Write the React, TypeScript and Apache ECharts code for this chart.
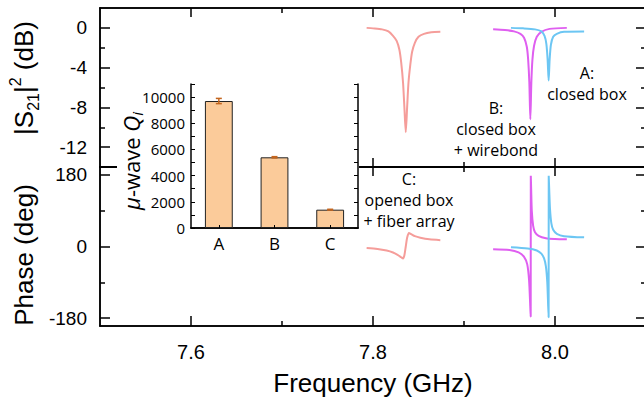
import React, { useEffect, useRef } from 'react';
import * as echarts from 'echarts';

// ---- tick values ----
const xMajor = [7.6, 7.8, 8.0];
const xMinor = [7.7, 7.9];
const magMajor = [-12, -8, -4, 0];
const magMinor = [-10, -6, -2];
const phaseMajor = [-180, 0, 180];
const phaseMinor = [-90, 90];

// ---- inset bar data ----
const samples = ['A', 'B', 'C'];
const qValues = [9700, 5400, 1400];
const qErrors = [200, 50, 30];
const qLabelTicks = [0, 2000, 4000, 6000, 8000, 10000];

// ---- |S21|^2 (dB) traces: [GHz, dB] ----
const magC: number[][] = [
  [7.793, 0.0], [7.8, -0.05], [7.81, -0.15], [7.817, -0.35], [7.822, -0.8], [7.826, -1.3],
  [7.829, -2.2], [7.831, -3.5], [7.833, -5.5], [7.8345, -8.0], [7.836, -10.5], [7.8375, -8.0],
  [7.839, -5.5], [7.841, -3.7], [7.843, -2.4], [7.846, -1.5], [7.85, -0.9], [7.856, -0.6],
  [7.864, -0.45], [7.874, -0.4],
];
const magB: number[][] = [
  [7.932, -0.15], [7.945, -0.22], [7.955, -0.35], [7.962, -0.6], [7.966, -1.0], [7.969, -1.9],
  [7.9705, -3.2], [7.9718, -5.5], [7.9729, -9.2], [7.974, -5.5], [7.9752, -3.2], [7.977, -1.8],
  [7.98, -0.9], [7.985, -0.4], [7.994, -0.1], [8.013, 0.0],
];
const magA: number[][] = [
  [7.9516, 0.0], [7.965, -0.05], [7.978, -0.15], [7.985, -0.35], [7.9885, -0.8], [7.9905, -1.6],
  [7.9919, -3.2], [7.993, -5.3], [7.9941, -3.2], [7.9955, -1.7], [7.998, -0.9], [8.002, -0.6],
  [8.01, -0.4], [8.032, -0.37],
];

// ---- phase (deg) traces: [GHz, deg] ----
const phaseC: number[][] = [
  [7.793, -4], [7.805, -6], [7.815, -10], [7.822, -15], [7.827, -21], [7.831, -27], [7.833, -30],
  [7.8345, -22], [7.836, 0], [7.8375, 22], [7.8395, 34], [7.842, 31], [7.846, 26], [7.852, 22],
  [7.862, 18], [7.874, 16],
];
const phaseB: number[][] = [
  [7.932, -7], [7.95, -9], [7.96, -15], [7.966, -26], [7.9695, -45], [7.9715, -85], [7.9728, -150],
  [7.9733, -176], [7.9734, 178], [7.9738, 145], [7.9745, 90], [7.976, 52], [7.978, 36], [7.982, 27],
  [7.99, 21], [8.0, 19], [8.013, 18],
];
const phaseA: number[][] = [
  [7.9516, -2], [7.97, -5], [7.98, -10], [7.985, -18], [7.988, -30], [7.99, -50], [7.9915, -90],
  [7.9925, -150], [7.993, -178], [7.9931, 178], [7.9937, 140], [7.9945, 95], [7.996, 58], [7.998, 42],
  [8.002, 32], [8.01, 26], [8.032, 23],
];

const COLOR_C = '#F59D9A';
const COLOR_B = '#DF5FF0';
const COLOR_A = '#6CC6F3';
const BAR_FILL = '#FBCB9A';
const ERR = '#C4661F';
const AX = '#000';
const ARIAL = 'Liberation Sans, Arial, sans-serif';
const MYRIAD = 'Open Sans, Noto Sans, sans-serif';

const G_LEFT = 100;
const G_WIDTH = 546;

function xAx(grid: number, position: string, values: number[], len: number, label: boolean, z = 0) {
  return {
    type: 'value', gridIndex: grid, position, min: 7.5, max: 8.1, z,
    axisLine: { show: true, onZero: false, lineStyle: { color: AX, width: 1.5 } },
    axisTick: { show: true, inside: true, length: len, customValues: values, lineStyle: { color: AX, width: 1.5 } },
    axisLabel: label
      ? { show: true, customValues: values, formatter: (v: number) => v.toFixed(1), fontSize: 20, color: '#000', fontFamily: ARIAL, margin: 16 }
      : { show: false },
    splitLine: { show: false },
  };
}

function yAx(grid: number, position: string, min: number, max: number, values: number[], len: number, label: boolean) {
  return {
    type: 'value', gridIndex: grid, position, min, max,
    axisLine: { show: true, onZero: false, lineStyle: { color: AX, width: 1.5 } },
    axisTick: { show: true, inside: true, length: len, customValues: values, lineStyle: { color: AX, width: 1.5 } },
    axisLabel: label
      ? { show: true, customValues: values, fontSize: 19, color: '#000', fontFamily: ARIAL, margin: 13 }
      : { show: false },
    splitLine: { show: false },
  };
}

export default function App() {
  const ref = useRef<HTMLDivElement>(null);
  useEffect(() => {
    if (!ref.current) return;
    const chart = echarts.init(ref.current, undefined, { renderer: 'svg' });
    const lineSeries = (data: number[][], color: string, xi: number, yi: number) => ({
      type: 'line', data, xAxisIndex: xi, yAxisIndex: yi, showSymbol: false, symbol: 'none',
      smooth: 0.25, lineStyle: { color, width: 2 }, z: 2, clip: true,
    });

    const option: any = {
      animation: false,
      backgroundColor: '#fff',
      grid: [
        { left: G_LEFT, top: 8, width: G_WIDTH, height: 159, outerBoundsMode: 'none', containLabel: false },
        { left: G_LEFT, top: 167, width: G_WIDTH, height: 159, outerBoundsMode: 'none', containLabel: false },
        { left: 191, top: 84, width: 167, height: 144, outerBoundsMode: 'none', containLabel: false, z: 10 },
      ],
      xAxis: [
        xAx(0, 'bottom', xMajor, 9, false),
        xAx(0, 'bottom', xMinor, 5, false),
        xAx(0, 'top', xMajor, 9, false),
        xAx(0, 'top', xMinor, 5, false),
        xAx(1, 'bottom', xMajor, 10, true),
        xAx(1, 'bottom', xMinor, 5, false),
        xAx(1, 'top', xMajor, 9, false),
        xAx(1, 'top', xMinor, 5, false),
        {
          type: 'category', gridIndex: 2, position: 'bottom', data: samples, z: 10,
          axisLine: { show: true, lineStyle: { color: AX, width: 1.5 } },
          axisTick: { show: true, inside: true, alignWithLabel: true, length: 3, lineStyle: { color: AX, width: 1 } },
          axisLabel: { fontSize: 17, color: '#000', fontFamily: MYRIAD, margin: 7 },
        },
        {
          type: 'category', gridIndex: 2, position: 'top', data: samples, z: 10,
          axisLine: { show: true, lineStyle: { color: AX, width: 1.5 } },
          axisTick: { show: false }, axisLabel: { show: false },
        },
      ],
      yAxis: [
        yAx(0, 'left', -14, 2, magMajor, 10, true),
        yAx(0, 'left', -14, 2, magMinor, 5, false),
        yAx(0, 'right', -14, 2, magMajor, 10, false),
        yAx(0, 'right', -14, 2, magMinor, 5, false),
        yAx(1, 'left', -200, 200, phaseMajor, 10, true),
        yAx(1, 'left', -200, 200, phaseMinor, 5, false),
        yAx(1, 'right', -200, 200, phaseMajor, 10, false),
        yAx(1, 'right', -200, 200, phaseMinor, 5, false),
        {
          type: 'value', gridIndex: 2, position: 'left', min: 0, max: 11000, interval: 1000, z: 10,
          axisLine: { show: true, lineStyle: { color: AX, width: 1.5 } },
          axisTick: { show: true, inside: true, length: 4, lineStyle: { color: AX, width: 1 } },
          axisLabel: {
            customValues: qLabelTicks, formatter: (v: number) => String(v),
            fontSize: 15, color: '#000', fontFamily: MYRIAD, margin: 6,
          },
          splitLine: { show: false },
        },
        {
          type: 'value', gridIndex: 2, position: 'right', min: 0, max: 11000, interval: 1000, z: 10,
          axisLine: { show: true, lineStyle: { color: AX, width: 1.5 } },
          axisTick: { show: true, inside: true, length: 4, lineStyle: { color: AX, width: 1 } },
          axisLabel: { show: false }, splitLine: { show: false },
        },
      ],
      series: [
        lineSeries(magC, COLOR_C, 0, 0),
        lineSeries(magB, COLOR_B, 0, 0),
        lineSeries(magA, COLOR_A, 0, 0),
        lineSeries(phaseC, COLOR_C, 4, 4),
        lineSeries(phaseB, COLOR_B, 4, 4),
        lineSeries(phaseA, COLOR_A, 4, 4),
        {
          type: 'bar', xAxisIndex: 8, yAxisIndex: 8, data: qValues, barWidth: '50%', z: 10,
          itemStyle: { color: BAR_FILL, borderColor: '#222', borderWidth: 1 },
        },
        {
          type: 'custom', xAxisIndex: 8, yAxisIndex: 8, z: 11,
          data: samples.map((_, i) => [i, qValues[i], qErrors[i]]),
          encode: { x: 0, y: 1 },
          renderItem: (params: any, api: any) => {
            const i = api.value(0);
            const v = api.value(1);
            const e = api.value(2);
            const top = api.coord([i, v + e]);
            const bot = api.coord([i, v - e]);
            const hw = 3;
            const st = { stroke: ERR, lineWidth: 1.5 };
            return {
              type: 'group',
              children: [
                { type: 'line', shape: { x1: top[0], y1: top[1], x2: bot[0], y2: bot[1] }, style: st },
                { type: 'line', shape: { x1: top[0] - hw, y1: top[1], x2: top[0] + hw, y2: top[1] }, style: st },
                { type: 'line', shape: { x1: bot[0] - hw, y1: bot[1], x2: bot[0] + hw, y2: bot[1] }, style: st },
              ],
            };
          },
        },
      ],
      graphic: [
        { type: 'rect', z: 5, shape: { x: 117, y: 62, width: 242, height: 192 }, style: { fill: '#fff' } },
        {
          type: 'text', z: 20, x: 24, y: 78, rotation: Math.PI / 2,
          style: {
            text: '{b||S}{sub|21}{b||}{sup|2}{b| (dB)}',
            align: 'center', verticalAlign: 'middle', fill: '#000',
            font: `26px ${ARIAL}`,
            rich: {
              b: { fontSize: 26, fontFamily: ARIAL, lineHeight: 34, fill: '#000' },
              sub: { fontSize: 16, fontFamily: ARIAL, lineHeight: 18, verticalAlign: 'bottom', fill: '#000' },
              sup: { fontSize: 16, fontFamily: ARIAL, lineHeight: 12, verticalAlign: 'top', fill: '#000' },
            },
          },
        },
        {
          type: 'text', z: 20, x: 24, y: 255, rotation: Math.PI / 2,
          style: { text: 'Phase (deg)', align: 'center', verticalAlign: 'middle', fill: '#000', fontSize: 26, fontFamily: ARIAL },
        },
        {
          type: 'text', z: 20, x: 373, y: 383,
          style: { text: 'Frequency (GHz)', align: 'center', verticalAlign: 'middle', fill: '#000', fontSize: 26, fontFamily: ARIAL },
        },
        {
          type: 'text', z: 20, x: 131, y: 161, rotation: Math.PI / 2,
          style: {
            text: '{it|μ}{n|-wave }{it|Q}{isub|i}',
            align: 'center', verticalAlign: 'middle', fill: '#000',
            font: `22px ${MYRIAD}`,
            rich: {
              it: { fontSize: 22, fontStyle: 'italic', fontFamily: MYRIAD, lineHeight: 26, fill: '#000' },
              n: { fontSize: 22, fontFamily: MYRIAD, lineHeight: 26, fill: '#000' },
              isub: { fontSize: 15, fontStyle: 'italic', fontFamily: MYRIAD, lineHeight: 15, verticalAlign: 'bottom', fill: '#000' },
            },
          },
        },
        {
          type: 'text', z: 20, x: 587, y: 83.5,
          style: { text: 'A:\nclosed box', align: 'center', verticalAlign: 'middle', fill: '#000', fontSize: 16, lineHeight: 21, fontFamily: MYRIAD },
        },
        {
          type: 'text', z: 20, x: 496, y: 128.5,
          style: { text: 'B:\nclosed box\n+ wirebond', align: 'center', verticalAlign: 'middle', fill: '#000', fontSize: 16, lineHeight: 21, fontFamily: MYRIAD },
        },
        {
          type: 'text', z: 20, x: 409, y: 200,
          style: { text: 'C:\nopened box\n+ fiber array', align: 'center', verticalAlign: 'middle', fill: '#000', fontSize: 16, lineHeight: 21, fontFamily: MYRIAD },
        },
      ],
    };
    chart.setOption(option);
    return () => chart.dispose();
  }, []);
  return <div ref={ref} style={{ position: 'absolute', left: 0, top: 0, width: 644, height: 399 }} />;
}
